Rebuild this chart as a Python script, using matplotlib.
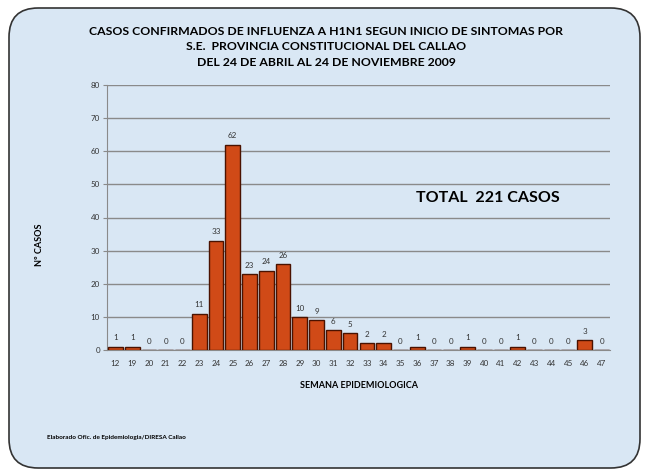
import matplotlib
matplotlib.use("Agg")
import matplotlib.pyplot as plt
from matplotlib.patches import FancyBboxPatch

weeks = ["12", "19", "20", "21", "22", "23", "24", "25", "26", "27", "28", "29", "30",
         "31", "32", "33", "34", "35", "36", "37", "38", "39", "40", "41", "42", "43",
         "44", "45", "46", "47"]
cases = [1, 1, 0, 0, 0, 11, 33, 62, 23, 24, 26, 10, 9, 6, 5, 2, 2, 0, 1, 0, 0, 1, 0, 0,
         1, 0, 0, 0, 3, 0]
y_ticks = [0, 10, 20, 30, 40, 50, 60, 70, 80]

plt.rcParams['font.family'] = ['Lato', 'DejaVu Sans']

W, H = 648, 476
fig = plt.figure(figsize=(W / 100, H / 100), dpi=100)
fig.patch.set_facecolor('white')

bg = FancyBboxPatch((9 / W, 8 / H), 631 / W, 460 / H,
                    boxstyle="round,pad=0,rounding_size=0.045",
                    transform=fig.transFigure, facecolor='#d9e7f4',
                    edgecolor='#333333', linewidth=1.2, mutation_aspect=W / H,
                    zorder=-5)
fig.patches.append(bg)

ax = fig.add_axes([107 / W, (H - 350) / H, 503 / W, 265 / H])
ax.set_facecolor('none')
ax.set_zorder(2)
x = list(range(len(weeks)))
bars = ax.bar(x, cases, width=0.88, color='#d04a17', edgecolor='#4a1200', linewidth=1.0, zorder=3)
for xi, v in zip(x, cases):
    ax.text(xi, v + 1.6, str(v), ha='center', va='bottom', fontsize=5.8, color='#333333')

ax.set_xlim(-0.5, len(weeks) - 0.5)
ax.set_ylim(0, 80)
ax.set_yticks(y_ticks)
ax.set_yticklabels([str(t) for t in y_ticks], fontsize=5.8, color='#333333')
ax.set_xticks(x)
ax.set_xticklabels(weeks, fontsize=5.8, color='#333333')
ax.yaxis.grid(True, color='#8a8a8a', linewidth=1.0, zorder=0)
ax.set_axisbelow(True)
for s in ['top', 'right']:
    ax.spines[s].set_visible(False)
ax.spines['left'].set_color('#8a8a8a')
ax.spines['bottom'].set_color('#8a8a8a')
ax.tick_params(axis='y', length=3, color='#8a8a8a', pad=2)
ax.tick_params(axis='x', length=0, pad=7)

ax.set_xlabel('SEMANA EPIDEMIOLOGICA', fontsize=6.5, fontweight='bold', labelpad=10)
fig.text(40 / W, 1 - 245 / H, 'Nº CASOS', rotation=90, ha='center', va='center',
         fontsize=6.5, fontweight='bold')

title = ("CASOS CONFIRMADOS DE INFLUENZA A H1N1 SEGUN INICIO DE SINTOMAS POR\n"
         "S.E.  PROVINCIA CONSTITUCIONAL DEL CALLAO\n"
         "DEL 24 DE ABRIL AL 24 DE NOVIEMBRE 2009")
fig.text(326 / W, 1 - 47 / H, title, ha='center', va='center', fontsize=8.8,
         fontweight='bold', linespacing=1.45)

fig.text(488 / W, 1 - 198 / H, 'TOTAL  221 CASOS', ha='center', va='center',
         fontsize=11.5, fontweight='bold')
fig.text(47 / W, 1 - 437 / H, 'Elaborado Ofic. de Epidemiologia/DIRESA Callao',
         ha='left', va='center', fontsize=4.6, fontweight='bold')

fig.savefig('out.png', dpi=100)
